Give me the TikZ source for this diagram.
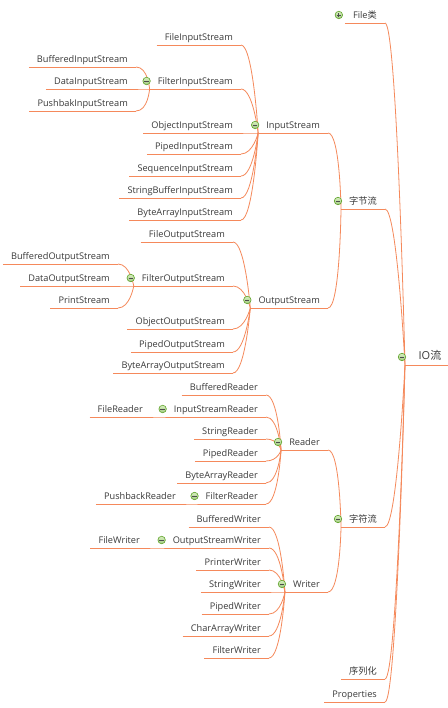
\documentclass[tikz,border=0pt]{standalone}
\usepackage{fontspec}
\setmainfont{Open Sans}
\newfontfamily\cjk{Noto Sans CJK SC}
\usetikzlibrary{calc}
\definecolor{branchorange}{HTML}{F5895B}
\definecolor{foldgreen}{HTML}{5FA32A}
\definecolor{foldfill}{HTML}{D8EFC0}
\definecolor{labelgray}{HTML}{3A3A3A}
\tikzstyle{topic}=[anchor=south east, inner xsep=8pt, inner ysep=2pt, text height=7pt, text depth=2pt, font=\fontsize{9.2}{10}\selectfont, text=labelgray]
\tikzstyle{roottopic}=[topic, inner xsep=13.5pt, inner ysep=3pt, text height=9pt, font=\fontsize{11}{12}\selectfont]
\tikzstyle{underline}=[draw=branchorange, line width=0.8pt]
\tikzstyle{branch}=[draw=branchorange, line width=0.8pt, to path={.. controls +(12,0) and +(0,0) .. (\tikztotarget)}]
\tikzstyle{fold}=[circle, draw=foldgreen, line width=0.6pt, top color=foldfill, bottom color=foldgreen!60, minimum size=7.5pt, inner sep=0pt,
  path picture={\draw[black!70, line width=0.8pt] ([xshift=1.6pt]path picture bounding box.west) -- ([xshift=-1.6pt]path picture bounding box.east);}]
\tikzstyle{unfold}=[fold, path picture={\draw[black!70, line width=0.8pt] ([xshift=1.6pt]path picture bounding box.west) -- ([xshift=-1.6pt]path picture bounding box.east) ([yshift=1.6pt]path picture bounding box.south) -- ([yshift=-1.6pt]path picture bounding box.north);}]

\begin{document}
\begin{tikzpicture}[x=1pt, y=-1pt]
  \useasboundingbox[fill=white] (0,0) rectangle (447,708);

  % root
  \node[roottopic] (io) at (455,365) {IO{\cjk 流}};

  % topics
  \foreach \pos/\name/\txt in {{(385,23)/file/File{\cjk 类}}, {(385,209)/byte/{\cjk 字节流}}, {(385,527)/char/{\cjk 字符流}},
      {(385,679)/serial/{\cjk 序列化}}, {(385,702)/props/Properties},
      {(328,133)/in/InputStream}, {(328,308)/out/OutputStream}, {(328,450)/rd/Reader}, {(328,592)/wr/Writer},
      {(241,45)/fis/FileInputStream}, {(241,89)/filin/FilterInputStream}, {(241,133)/ois/ObjectInputStream},
      {(241,154)/pis/PipedInputStream}, {(241,176)/sis/SequenceInputStream}, {(241,198)/sbis/StringBufferInputStream},
      {(241,220)/bais/ByteArrayInputStream},
      {(136,67)/bis/BufferedInputStream}, {(136,89)/dis/DataInputStream}, {(136,111)/pbis/PushbakInputStream},
      {(233,242)/fos/FileOutputStream}, {(233,286)/filout/FilterOutputStream}, {(233,329)/oos/ObjectOutputStream},
      {(233,352)/pos/PipedOutputStream}, {(233,373)/baos/ByteArrayOutputStream},
      {(118,264)/bos/BufferedOutputStream}, {(118,286)/dos/DataOutputStream}, {(118,308)/ps/PrintStream},
      {(266,395)/br/BufferedReader}, {(266,417)/isr/InputStreamReader}, {(266,439)/sr/StringReader},
      {(266,461)/pr/PipedReader}, {(266,483)/bar/ByteArrayReader}, {(266,504)/fr/FilterReader},
      {(151,417)/filerd/FileReader}, {(184,504)/pbr/PushbackReader},
      {(269,527)/bw/BufferedWriter}, {(269,548)/osw/OutputStreamWriter}, {(269,570)/pw/PrinterWriter},
      {(269,592)/sw/StringWriter}, {(269,614)/pdw/PipedWriter}, {(269,636)/caw/CharArrayWriter},
      {(269,658)/fw/FilterWriter}, {(148,548)/filewr/FileWriter}}
    \node[topic] (\name) at \pos {\txt};

  % underlines
  \foreach \name in {io,file,byte,char,serial,props,in,out,rd,wr,fis,filin,ois,pis,sis,sbis,bais,bis,dis,pbis,
      fos,filout,oos,pos,baos,bos,dos,ps,br,isr,sr,pr,bar,fr,filerd,pbr,bw,osw,pw,sw,pdw,caw,fw,filewr}
    \path[underline] (\name.south west) -- (\name.south east);

  % branches
  \foreach \source/\dest in {file/io, byte/io, char/io, serial/io, props/io, in/byte, out/byte, rd/char, wr/char,
      fis/in, filin/in, ois/in, pis/in, sis/in, sbis/in, bais/in, bis/filin, dis/filin, pbis/filin,
      fos/out, filout/out, oos/out, pos/out, baos/out, bos/filout, dos/filout, ps/filout,
      br/rd, isr/rd, sr/rd, pr/rd, bar/rd, fr/rd, filerd/isr, pbr/fr,
      bw/wr, osw/wr, pw/wr, sw/wr, pdw/wr, caw/wr, fw/wr, filewr/osw}
    \path[branch] (\source.south east) to (\dest.south west);

  % fold icons
  \foreach \name in {io, byte, char, in, out, rd, wr, filin, filout, isr, fr, osw}
    \node[fold] at ($(\name.south west)+(-3,-8)$) {};
  \node[unfold] at ($(file.south west)+(-6,-8)$) {};

\end{tikzpicture}
\end{document}
